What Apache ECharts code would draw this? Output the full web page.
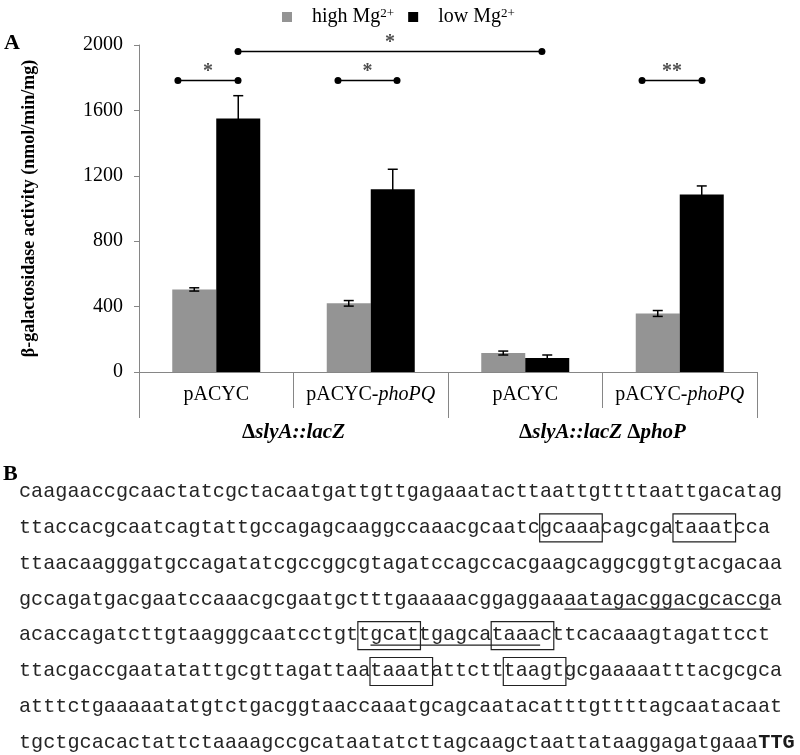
<!DOCTYPE html>
<html><head><meta charset="utf-8">
<script src="https://cdn.jsdelivr.net/npm/echarts@6.0.0/dist/echarts.min.js"></script>
<style>html,body{margin:0;padding:0;background:#fff}#c{width:800px;height:755px}</style>
</head><body><div id="c"></div>
<script>
// ---------- data (panel A) ----------
const plasmids = ['pACYC', 'pACYC-phoPQ', 'pACYC', 'pACYC-phoPQ'];
const strains = ['ΔslyA::lacZ', 'ΔslyA::lacZ ΔphoP'];
const seriesNames = ['high Mg2+', 'low Mg2+'];
const highMg = [505, 420, 116, 358];
const highMgErr = [10, 17, 12, 18];
const lowMg = [1550, 1117, 86, 1085];
const lowMgErr = [140, 123, 18, 53];
const yTicks = [0, 400, 800, 1200, 1600, 2000];
// significance brackets (x in category units 0..4, y in activity units)
const bracketFrom = [0.252, 0.641, 1.288, 3.256];
const bracketTo = [0.641, 2.608, 1.670, 3.644];
const bracketLevel = [1783, 1960, 1783, 1783];
const starLevel = [1869, 2046, 1869, 1869];
const bracketMark = ['*', '*', '*', '**'];
// ---------- data (panel B) ----------
const seqLines = [
  'caagaaccgcaactatcgctacaatgattgttgagaaatacttaattgttttaattgacatag',
  'ttaccacgcaatcagtattgccagagcaaggccaaacgcaatcgcaaacagcgataaatcca',
  'ttaacaagggatgccagatatcgccggcgtagatccagccacgaagcaggcggtgtacgacaa',
  'gccagatgacgaatccaaacgcgaatgctttgaaaaacggaggaaaatagacggacgcaccga',
  'acaccagatcttgtaagggcaatcctgttgcattgagcataaacttcacaaagtagattcct',
  'ttacgaccgaatatattgcgttagattaataaatattctttaagtgcgaaaaatttacgcgca',
  'atttctgaaaaatatgtctgacggtaaccaaatgcagcaatacatttgttttagcaatacaat',
  'tgctgcacactattctaaaagccgcataatatcttagcaagctaattataaggagatgaaa'
];
const seqTail = 'TTG';
// boxed motifs: line, first char, length
const boxLine = [1, 1, 4, 4, 5, 5];
const boxStart = [43, 54, 28, 39, 29, 40];
const boxLen = [5, 5, 5, 5, 5, 5];
// underlined stretches: line, first char, length
const ulLine = [3, 4];
const ulStart = [45, 29];
const ulLen = [17, 14];

const serif = '"Liberation Serif", "Times New Roman", serif';
const mono = '"Liberation Mono", "Courier New", monospace';
const AX = '#868686';
const barW = 44;

const chart = echarts.init(document.getElementById('c'), null, {renderer: 'canvas'});

function errRender(offset) {
  return function (params, api) {
    const i = api.value(0), v = api.value(1), e = api.value(2);
    const top = api.coord([i, v + e]);
    const bot = api.coord([i, v - e]);
    const x = top[0] + offset, hw = 5;
    const st = {stroke: '#000', lineWidth: 1.5};
    return {type: 'group', children: [
      {type: 'line', shape: {x1: x, y1: top[1], x2: x, y2: bot[1]}, style: st},
      {type: 'line', shape: {x1: x - hw, y1: top[1], x2: x + hw, y2: top[1]}, style: st},
      {type: 'line', shape: {x1: x - hw, y1: bot[1], x2: x + hw, y2: bot[1]}, style: st}
    ]};
  };
}

const series = [
  {name: seriesNames[0], type: 'bar', data: highMg, barWidth: barW, barGap: '0%',
   itemStyle: {color: '#949494'}, xAxisIndex: 0, yAxisIndex: 0},
  {name: seriesNames[1], type: 'bar', data: lowMg, barWidth: barW, barGap: '0%',
   itemStyle: {color: '#000'}, xAxisIndex: 0, yAxisIndex: 0},
  {type: 'custom', xAxisIndex: 0, z: 5, renderItem: errRender(-barW / 2),
   data: highMg.map((v, i) => [i, v, highMgErr[i]]), encode: {x: 0, y: 1}},
  {type: 'custom', xAxisIndex: 0, z: 5, renderItem: errRender(barW / 2),
   data: lowMg.map((v, i) => [i, v, lowMgErr[i]]), encode: {x: 0, y: 1}}
];
bracketFrom.forEach((f, k) => {
  series.push({type: 'line', xAxisIndex: 2, z: 6, clip: false, silent: true,
    data: [[f, bracketLevel[k]], [bracketTo[k], bracketLevel[k]]],
    symbol: 'circle', symbolSize: 7, showSymbol: true,
    itemStyle: {color: '#000'}, lineStyle: {color: '#000', width: 1.5}});
});
series.push({type: 'scatter', xAxisIndex: 2, z: 6, clip: false, silent: true,
  symbolSize: 1, itemStyle: {color: 'rgba(0,0,0,0)'},
  data: bracketFrom.map((f, k) => [(f + bracketTo[k]) / 2, starLevel[k], bracketMark[k]]),
  label: {show: true, position: 'inside', formatter: p => p.value[2], offset: [0, 5],
    fontFamily: serif, fontSize: 20, fontWeight: 'bold', color: '#222'}});

// panel B graphics
const x0 = 19, fs = 20.2, cw = fs * 0.6, y0 = 491.5, dy = 35.9;
const graphics = [
  {type: 'text', x: 4, y: 32, style: {text: 'A', font: 'bold 22px ' + serif, fill: '#000'}},
  {type: 'text', x: 3, y: 463, style: {text: 'B', font: 'bold 22px ' + serif, fill: '#000'}}
];
seqLines.forEach((s, i) => {
  graphics.push({type: 'text', x: x0, y: y0 + i * dy,
    style: {text: s, font: fs + 'px ' + mono, fill: '#262626', verticalAlign: 'middle'}});
});
graphics.push({type: 'text', x: x0 + seqLines[7].length * cw, y: y0 + 7 * dy,
  style: {text: seqTail, font: 'bold ' + fs + 'px ' + mono, fill: '#1a1a1a', verticalAlign: 'middle'}});
boxLine.forEach((l, k) => {
  const cy = y0 + 1.5 + l * dy;
  graphics.push({type: 'rect', shape: {x: x0 + boxStart[k] * cw - 0.5, y: cy - 15, width: boxLen[k] * cw + 2, height: 28},
    style: {fill: 'none', stroke: '#222', lineWidth: 1.2}});
});
ulLine.forEach((l, k) => {
  const cy = y0 + 1.5 + l * dy;
  graphics.push({type: 'line', shape: {x1: x0 + ulStart[k] * cw, y1: cy + 8.5, x2: x0 + (ulStart[k] + ulLen[k]) * cw, y2: cy + 8.5},
    style: {stroke: '#222', lineWidth: 1.2}});
});

chart.setOption({
  animation: false,
  backgroundColor: '#fff',
  grid: {left: 139, right: 43, top: 45, bottom: 383, containLabel: false, outerBoundsMode: 'none'},
  legend: {left: 277, top: 2, itemWidth: 10, itemHeight: 10, itemGap: 14, icon: 'rect',
    data: seriesNames, formatter: n => n.replace('2+', '{sup|2+}'),
    textStyle: {fontFamily: serif, fontSize: 20, color: '#000', padding: [0, 0, 0, 15],
      rich: {sup: {fontFamily: serif, fontSize: 13, color: '#000', verticalAlign: 'top'}}}},
  xAxis: [
    {type: 'category', data: plasmids, position: 'bottom',
     axisLine: {show: true, lineStyle: {color: AX, width: 1}},
     axisTick: {show: true, length: 36, interval: 0, lineStyle: {color: AX}},
     axisLabel: {margin: 13, interval: 0, fontFamily: serif, fontSize: 20, color: '#000',
       formatter: v => v.replace('-phoPQ', '-{i|phoPQ}'),
       rich: {i: {fontFamily: serif, fontSize: 20, fontStyle: 'italic', color: '#000'}}},
     splitLine: {show: false}},
    {type: 'category', data: strains, position: 'bottom', offset: 0,
     axisLine: {show: false},
     axisTick: {show: true, length: 46, interval: 0, lineStyle: {color: AX}},
     axisLabel: {margin: 50, interval: 0, color: '#000',
       formatter: v => v.split(' ').map(p => '{d|Δ}{it|' + p.slice(1) + '}').join('{d| }'),
       rich: {d: {fontFamily: serif, fontSize: 21, fontWeight: 'bold', color: '#000'},
              it: {fontFamily: serif, fontSize: 21, fontWeight: 'bold', fontStyle: 'italic', color: '#000'}}},
     splitLine: {show: false}},
    {type: 'value', min: 0, max: plasmids.length, show: false}
  ],
  yAxis: {type: 'value', min: yTicks[0], max: yTicks[yTicks.length - 1], interval: yTicks[1] - yTicks[0],
    name: 'β-galactosidase activity (nmol/min/mg)', nameLocation: 'middle', nameGap: 101,
    nameTextStyle: {fontFamily: serif, fontWeight: 'bold', fontSize: 18, color: '#000'},
    axisLine: {show: true, lineStyle: {color: AX}},
    axisTick: {show: true, length: 5, lineStyle: {color: AX}},
    splitLine: {show: false},
    axisLabel: {margin: 16, fontFamily: serif, fontSize: 20, color: '#000', formatter: v => String(v)}},
  series: series,
  graphic: graphics
});
</script></body></html>
